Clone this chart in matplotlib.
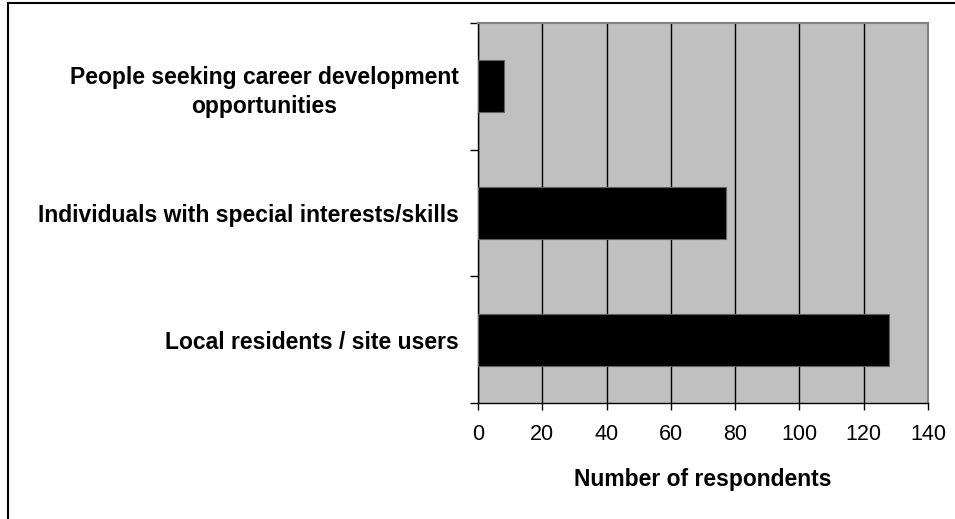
import matplotlib
matplotlib.use("Agg")
import matplotlib.pyplot as plt
from matplotlib.lines import Line2D

categories = ["Local residents / site users",
              "Individuals with special interests/skills",
              "People seeking career development\nopportunities"]
values = [128, 77, 8]
xticks = [0, 20, 40, 60, 80, 100, 120, 140]

plt.rcParams['font.family'] = ['Liberation Sans', 'DejaVu Sans']

fig = plt.figure(figsize=(9.55, 5.19), dpi=100)
fig.patch.set_facecolor('white')
ax = fig.add_axes([478/955, 1-403/519, (928-478)/955, (403-23)/519])
ax.set_facecolor('#C0C0C0')

ypos = list(range(len(categories)))
ax.barh(ypos, values, height=0.41, color='black', edgecolor='#606060', linewidth=0.8, zorder=3)

ax.set_xlim(0, 140)
ax.set_ylim(-0.5, len(categories) - 0.5)
ax.set_xticks(xticks)
ax.set_xticklabels([str(t) for t in xticks], fontsize=15.5)
ax.xaxis.grid(True, color='black', linewidth=1.0, zorder=1)
ax.set_axisbelow(True)

ax.set_yticks([i - 0.5 for i in range(len(categories) + 1)])
ax.set_yticklabels([])
ax.set_yticks(ypos, minor=True)
ax.set_yticklabels(categories, minor=True, fontsize=16.5, fontweight='bold',
                   multialignment='center', linespacing=1.35)
ax.tick_params(axis='y', which='minor', length=0, pad=14)
ax.tick_params(axis='y', which='major', length=6, width=1, direction='out', color='black')
ax.tick_params(axis='x', length=5, width=1, direction='out', color='black', pad=10)

for s in ['top', 'right']:
    ax.spines[s].set_color('#808080')
    ax.spines[s].set_linewidth(1.5)
for s in ['left', 'bottom']:
    ax.spines[s].set_color('black')
    ax.spines[s].set_linewidth(1.0)

ax.set_xlabel("Number of respondents", fontsize=16.5, fontweight='bold', labelpad=17)

# figure border (left and top visible)
fig.add_artist(Line2D([8/955, 8/955], [0, 1-3/519], color='black', linewidth=1.5, transform=fig.transFigure))
fig.add_artist(Line2D([8/955, 1], [1-3/519, 1-3/519], color='black', linewidth=1.5, transform=fig.transFigure))

fig.savefig("out.png", dpi=100, facecolor='white')
